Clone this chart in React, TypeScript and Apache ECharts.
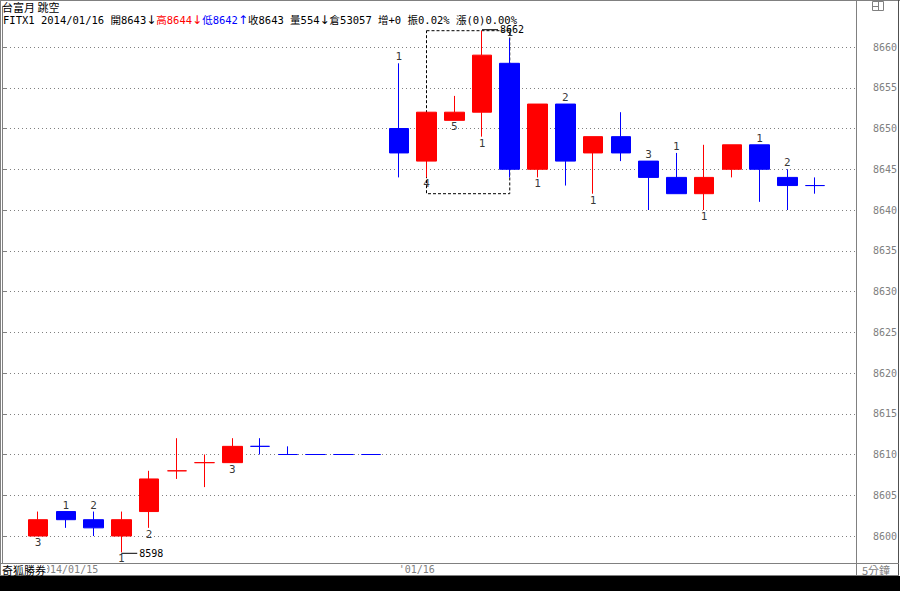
import React, { useEffect, useRef } from "react";
import * as echarts from "echarts";

// 5-minute bars: last part of 2014/01/15 session, then 2014/01/16
const times = [
  "12:45", "12:50", "12:55", "13:00", "13:05", "13:10", "13:15", "13:20", "13:25", "13:30", "13:35", "13:40", "13:45",
  "08:50", "08:55", "09:00", "09:05", "09:10", "09:15", "09:20", "09:25", "09:30", "09:35", "09:40", "09:45", "09:50", "09:55", "10:00", "10:05",
];
const dayStartIndex = [0, 13];
const dayLabels = ["2014/01/15", "'01/16"];

const opens = [8600, 8603, 8602, 8600, 8603, 8608, 8609, 8609, 8611, 8610, 8610, 8610, 8610, 8650, 8646, 8651, 8652, 8658, 8645, 8653, 8647, 8649, 8646, 8644, 8642, 8645, 8648, 8644, 8643];
const closes = [8602, 8602, 8601, 8602, 8607, 8608, 8609, 8611, 8611, 8610, 8610, 8610, 8610, 8647, 8652, 8652, 8659, 8645, 8653, 8646, 8649, 8647, 8644, 8642, 8644, 8648, 8645, 8643, 8643];
const lows = [8600, 8601, 8600, 8598, 8601, 8607, 8606, 8609, 8610, 8610, 8610, 8610, 8610, 8644, 8644, 8651, 8649, 8644, 8644, 8643, 8642, 8646, 8640, 8642, 8640, 8644, 8641, 8640, 8642];
const highs = [8603, 8603, 8603, 8603, 8608, 8612, 8610, 8612, 8612, 8611, 8610, 8610, 8610, 8658, 8652, 8654, 8662, 8661, 8653, 8653, 8649, 8652, 8646, 8647, 8648, 8648, 8648, 8645, 8644];
// r = up (red), b = down (blue)
const directions = ["r", "b", "b", "r", "r", "r", "r", "r", "b", "b", "b", "b", "b", "b", "r", "r", "r", "b", "r", "b", "r", "b", "b", "b", "r", "r", "b", "b", "b"];
// small count numbers shown at each bar, t = above high, b = below low
const countLabels = ["3", "1", "2", "1", "2", "", "", "3", "", "", "", "", "", "1", "4", "5", "1", "1", "1", "2", "1", "", "3", "1", "1", "", "1", "2", ""];
const countPositions = ["b", "t", "t", "b", "b", "", "", "b", "", "", "", "", "", "t", "b", "b", "b", "t", "b", "t", "b", "", "t", "t", "b", "", "t", "t", ""];

// gap (跳空) box
const gapFrom = 14;
const gapTo = 17;
const gapTop = 8662;
const gapBottom = 8642;

const yTicksMin = 8595;
const yTicksMax = 8665;
const yTickStep = 5;

const symbol = "FITX1";
const quoteDate = "2014/01/16";
const volume = 554;
const openInterest = 53057;
const oiChange = "+0";
const amplitude = "0.02%";
const change = "(0)0.00%";
const title = "台富月 跳空";

const RED = "#ff0000";
const BLUE = "#0000ff";
const GRAY = "#808080";
const MONO = '"DejaVu Sans Mono", "Noto Sans CJK TC", monospace';
const CJK = '"Noto Sans CJK TC", "DejaVu Sans Mono", sans-serif';

export default function App() {
  const ref = useRef<HTMLDivElement>(null);

  useEffect(() => {
    if (!ref.current) return;
    const chart = echarts.init(ref.current, undefined, { renderer: "svg" });

    const candleData = opens.map((o, i) => {
      const c = directions[i] === "r" ? RED : BLUE;
      return {
        value: [o, closes[i], lows[i], highs[i]],
        itemStyle: { color: c, color0: c, borderColor: c, borderColor0: c, borderColorDoji: c },
      };
    });

    const above: any[] = [];
    const below: any[] = [];
    countLabels.forEach((t, i) => {
      if (!t) return;
      if (countPositions[i] === "t") above.push([i, highs[i], t]);
      else below.push([i, lows[i], t]);
    });

    const maxHigh = Math.max(...highs);
    const maxIdx = highs.indexOf(maxHigh);
    const minLow = Math.min(...lows);
    const minIdx = lows.indexOf(minLow);

    const n = opens.length - 1;
    const header =
      `{k|${symbol} ${quoteDate} 開${opens[n]}}{a|↓}{r|高${highs[n]}}{ra|↓}{b|低${lows[n]}}{ba|↑}` +
      `{k|收${closes[n]} 量${volume}}{a|↓}{k|倉${openInterest} 增${oiChange} 振${amplitude} 漲${change}}`;

    const gridTop = 6.25;
    const gridBottom = 14.25;

    chart.setOption({
      animation: false,
      backgroundColor: "#ffffff",
      grid: [
        { left: 24.125, right: 71.125, top: gridTop, bottom: gridBottom },
        { left: 2, right: 43, top: gridTop, bottom: gridBottom },
      ],
      xAxis: [
        {
          type: "category",
          gridIndex: 0,
          data: times,
          axisLine: { show: false },
          axisTick: { show: false },
          splitLine: { show: false },
          axisLabel: {
            inside: true,
            interval: 0,
            margin: 7,
            verticalAlign: "middle",
            align: "left",
            padding: [0, 0, 0, 0],
            color: GRAY,
            fontFamily: MONO,
            fontSize: 10,
            formatter: (_v: string, i: number) => {
              const k = dayStartIndex.indexOf(i);
              return k >= 0 ? dayLabels[k] : "";
            },
          },
        },
        { type: "value", gridIndex: 1, show: false, min: 0, max: 1 },
      ],
      yAxis: [
        { type: "value", gridIndex: 0, min: yTicksMin, max: yTicksMax, show: false },
        {
          type: "value",
          gridIndex: 1,
          position: "right",
          min: yTicksMin,
          max: yTicksMax,
          interval: yTickStep,
          axisLine: { show: true, lineStyle: { color: GRAY, width: 1 } },
          axisTick: { show: true, length: 4, lineStyle: { color: GRAY } },
          minorTick: { show: true, splitNumber: 5, length: 1, lineStyle: { color: GRAY } },
          axisLabel: {
            margin: 16,
            color: GRAY,
            fontFamily: MONO,
            fontSize: 10,
            showMinLabel: false,
            showMaxLabel: false,
            formatter: (v: number) => String(v),
          },
          splitLine: {
            show: true,
            showMinLine: false,
            showMaxLine: false,
            lineStyle: { color: GRAY, width: 1, type: [1, 3] },
          },
        },
      ],
      series: [
        { type: "line", xAxisIndex: 1, yAxisIndex: 1, data: [], silent: true },
        {
          type: "candlestick",
          xAxisIndex: 0,
          yAxisIndex: 0,
          barWidth: 20,
          data: candleData,
          itemStyle: { borderWidth: 1 },
          markPoint: {
            symbol: "rect",
            symbolSize: [16, 1],
            symbolOffset: [8, 1],
            itemStyle: { color: "#000000" },
            label: {
              show: true,
              position: "right",
              distance: 2,
              color: "#000000",
              fontFamily: MONO,
              fontSize: 10,
              formatter: "{c}",
            },
            data: [
              { coord: [times[maxIdx], maxHigh], value: maxHigh, symbolOffset: [8, -1] },
              { coord: [times[minIdx], minLow], value: minLow },
            ],
          },
          markArea: {
            silent: true,
            itemStyle: {
              color: "rgba(0,0,0,0)",
              borderColor: "#000000",
              borderWidth: 1,
              borderType: [3, 2],
            },
            data: [[{ coord: [times[gapFrom], gapTop] }, { coord: [times[gapTo], gapBottom] }]],
          },
        },
        {
          type: "scatter",
          xAxisIndex: 0,
          yAxisIndex: 0,
          symbolSize: 0,
          silent: true,
          data: above,
          label: {
            show: true,
            position: "top",
            distance: 1,
            color: "#000000",
            fontFamily: MONO,
            fontSize: 11,
            formatter: (p: any) => p.value[2],
          },
        },
        {
          type: "scatter",
          xAxisIndex: 0,
          yAxisIndex: 0,
          symbolSize: 0,
          silent: true,
          data: below,
          label: {
            show: true,
            position: "bottom",
            distance: 1,
            color: "#000000",
            fontFamily: MONO,
            fontSize: 11,
            formatter: (p: any) => p.value[2],
          },
        },
      ],
      graphic: [
        { type: "line", z: 100, shape: { x1: 0, y1: 0.5, x2: 900, y2: 0.5 }, style: { stroke: GRAY, lineWidth: 1 } },
        { type: "line", z: 100, shape: { x1: 0.5, y1: 0, x2: 0.5, y2: 576 }, style: { stroke: GRAY, lineWidth: 1 } },
        { type: "line", z: 100, shape: { x1: 898.5, y1: 0, x2: 898.5, y2: 576 }, style: { stroke: "#505050", lineWidth: 1 } },
        { type: "line", z: 100, shape: { x1: 856.5, y1: 0, x2: 856.5, y2: 576 }, style: { stroke: GRAY, lineWidth: 1 } },
        { type: "line", z: 100, shape: { x1: 0, y1: 563.5, x2: 899, y2: 563.5 }, style: { stroke: GRAY, lineWidth: 1 } },
        { type: "line", z: 100, shape: { x1: 0, y1: 575.5, x2: 899, y2: 575.5 }, style: { stroke: GRAY, lineWidth: 1 } },
        { type: "rect", z: 100, shape: { x: 0, y: 576, width: 900, height: 15 }, style: { fill: "#000000" } },
        { type: "rect", z: 100, shape: { x: 872.5, y: 1.5, width: 11, height: 9 }, style: { fill: "none", stroke: GRAY, lineWidth: 1 } },
        { type: "line", z: 100, shape: { x1: 878.5, y1: 1.5, x2: 878.5, y2: 10.5 }, style: { stroke: GRAY, lineWidth: 1 } },
        { type: "line", z: 100, shape: { x1: 872.5, y1: 6.5, x2: 878.5, y2: 6.5 }, style: { stroke: GRAY, lineWidth: 1 } },
        { type: "rect", z: 101, shape: { x: 1, y: 564, width: 46, height: 11 }, style: { fill: "#ffffff" } },
        {
          type: "text", z: 102, x: 2, y: 569.5,
          style: { text: "奇狐勝券", fill: "#000000", font: `11px ${CJK}`, verticalAlign: "middle" },
        },
        {
          type: "text", z: 102, x: 862, y: 569.5,
          style: { text: "5分鐘", fill: GRAY, font: `11px ${CJK}`, verticalAlign: "middle" },
        },
        {
          type: "text", z: 102, x: 2, y: 6.5,
          style: { text: title, fill: "#000000", font: `11px ${CJK}`, verticalAlign: "middle" },
        },
        {
          type: "text", z: 102, x: 3, y: 20,
          style: {
            text: header,
            font: `10.5px ${MONO}`,
            verticalAlign: "middle",
            rich: {
              k: { fill: "#000000", font: `10.5px ${MONO}` },
              a: { fill: "#000000", font: `12px "DejaVu Sans"` },
              r: { fill: RED, font: `10.5px ${MONO}` },
              ra: { fill: RED, font: `12px "DejaVu Sans"` },
              b: { fill: BLUE, font: `10.5px ${MONO}` },
              ba: { fill: BLUE, font: `12px "DejaVu Sans"` },
            },
          },
        },
      ],
    });

    return () => chart.dispose();
  }, []);

  return (
    <div
      ref={ref}
      style={{ position: "fixed", left: 0, top: 0, width: 900, height: 591 }}
    />
  );
}
